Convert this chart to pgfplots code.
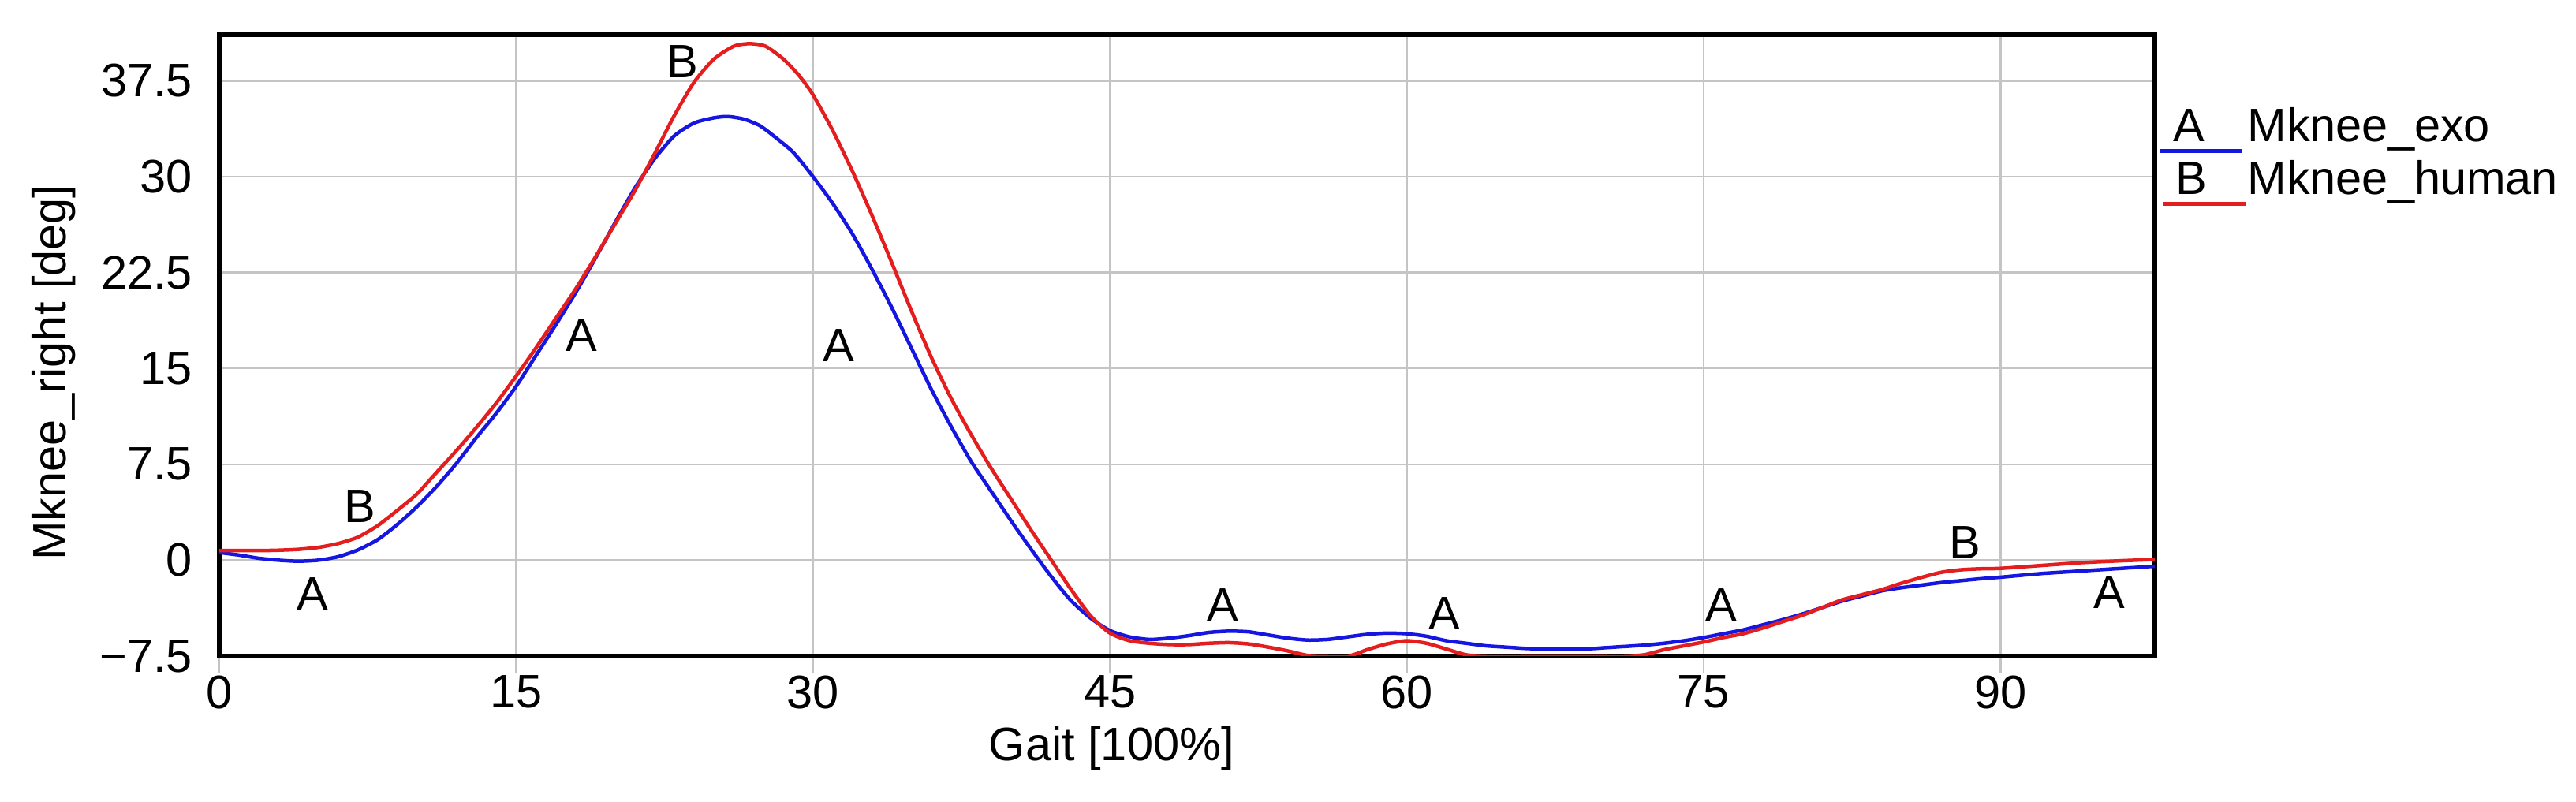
\documentclass[border=0pt]{standalone}
\usepackage{fontspec}
\setmainfont{Liberation Sans}
\usepackage{pgfplots}
\usepackage{pgfplotstable}
\pgfplotsset{compat=1.18}

\definecolor{exoblue}{RGB}{22,22,225}
\definecolor{humred}{RGB}{228,30,30}
\definecolor{gridgray}{RGB}{196,196,196}

% Mknee_exo (curve A)
\pgfplotstableread{
x y
0 0.6
1 0.4
2 0.15
3 0.0
4 -0.08
5 0.0
6 0.27
7 0.8
8 1.6
9 2.8
10 4.2
11 5.8
12 7.6
13 9.6
14 11.5
15 13.6
16 16.0
17 18.4
18 20.9
19 23.6
20 26.4
21 29.1
22 31.4
23 33.2
24 34.2
25 34.6
25.7 34.7
26.5 34.5
27.3 34.0
28 33.2
29 31.9
30 30.0
31 27.9
32 25.5
33 22.7
34 19.7
35 16.5
36 13.3
37 10.4
38 7.7
39 5.4
40 3.1
41 0.9
42 -1.2
43 -3.1
44 -4.5
45 -5.5
46 -6.0
47 -6.2
48 -6.1
49 -5.9
50 -5.65
51 -5.55
52 -5.6
53 -5.85
54 -6.1
55 -6.25
56 -6.2
57 -6.0
58 -5.8
59 -5.7
60 -5.75
61 -5.95
62 -6.3
63 -6.5
64 -6.7
65 -6.8
66 -6.9
67 -6.95
68 -6.97
69 -6.95
70 -6.85
71 -6.75
72 -6.65
73 -6.5
74 -6.3
75 -6.05
76 -5.75
77 -5.45
78 -5.05
79 -4.65
80 -4.2
81 -3.7
82 -3.2
83 -2.8
84 -2.4
85 -2.15
86 -1.95
87 -1.75
88 -1.6
89 -1.45
90 -1.33
92 -1.05
94 -0.85
96 -0.65
97.8 -0.47
}\exo

% Mknee_human (curve B)
\pgfplotstableread{
x y
0 0.75
1 0.75
2 0.75
3 0.78
4 0.85
5 1.0
6 1.3
7 1.8
8 2.7
9 3.9
10 5.2
11 6.9
12 8.6
13 10.4
14 12.3
15 14.4
16 16.6
17 18.9
18 21.2
19 23.7
20 26.3
21 28.9
22 31.8
23 34.8
24 37.4
25 39.2
26 40.2
26.8 40.4
27.6 40.2
28.5 39.2
29.3 37.9
30 36.4
31 33.6
32 30.4
33 26.9
34 23.2
35 19.4
36 15.8
37 12.6
38 9.8
39 7.2
40 4.8
41 2.4
42 0.1
43 -2.2
44 -4.3
45 -5.7
46 -6.3
47 -6.5
48 -6.6
49 -6.6
50 -6.5
51 -6.45
52 -6.55
53 -6.8
54 -7.1
55 -7.45
56 -7.5
57 -7.5
57.5 -7.3
58 -7.0
59 -6.55
60 -6.3
61 -6.5
62 -6.95
63 -7.4
64 -7.5
66 -7.5
68 -7.5
70 -7.5
71 -7.5
72 -7.4
73 -7.0
74 -6.7
75 -6.4
76 -6.05
77 -5.75
78 -5.3
79 -4.8
80 -4.3
81 -3.7
82 -3.1
83 -2.7
84 -2.3
85 -1.8
86 -1.35
87 -0.95
88 -0.75
89 -0.67
90 -0.64
92 -0.42
94 -0.2
96 -0.05
97.8 0.06
}\human

\begin{document}
\begin{tikzpicture}[font=\fontsize{11.9}{14.3}\selectfont]
\begin{axis}[
    scale only axis,
    width=490.8pt, height=157.6pt,
    xmin=0, xmax=97.8,
    ymin=-7.5, ymax=41.1,
    xtick={0,15,30,45,60,75,90},
    xticklabels={0,15,30,45,60,75,90},
    ytick={-7.5,0,7.5,15,22.5,30,37.5},
    yticklabels={\raisebox{-2.4pt}{−7.5},0,7.5,15,22.5,30,37.5},
    xtick pos=lower, ytick pos=left,
    grid=major,
    major grid style={gridgray, line width=0.5pt},
    axis line style={black, line width=1.3pt},
    tick align=outside,
    major tick length=4.3pt,
    xtick style={gridgray, line width=0.5pt},
    ytick style={draw=none},
    xticklabel style={inner sep=0pt, anchor=north, yshift=-0.5pt},
    yticklabel style={inner sep=0pt, anchor=east, xshift=-2.3pt},
    xlabel={Gait [100\%]},
    ylabel={Mknee\_right [deg]},
    xlabel style={at={([yshift=-23.4pt]axis description cs:0.461,0)}, anchor=center},
    ylabel style={at={([xshift=-42pt]axis description cs:0,0.456)}, anchor=center},
    legend style={at={(axis description cs:1,1)}, anchor=north west,
        xshift=0.6pt, yshift=-18.3pt, draw=none, fill=none,
        inner sep=0pt, row sep=2.0pt, column sep=0pt,
        nodes={inner sep=0pt}},
    legend cell align=left,
]
\addplot[exoblue, line width=0.9pt, smooth, tension=0.4,
    legend image code/.code={
        \path[draw=none] (0pt,0pt) -- (22.2pt,0pt);
        \draw[exoblue, line width=0.9pt] (0pt,-5.9pt) -- (21pt,-5.9pt);
        \node[anchor=base, inner sep=0pt, text=black] at (7.4pt,-3.6pt) {A};
    }] table {\exo};
\addlegendentry{Mknee\_exo}
\addplot[humred, line width=0.9pt, smooth, tension=0.4,
    legend image code/.code={
        \path[draw=none] (0pt,0pt) -- (22.2pt,0pt);
        \draw[humred, line width=0.9pt] (0.8pt,-5.9pt) -- (21.8pt,-5.9pt);
        \node[anchor=base, inner sep=0pt, text=black] at (8pt,-3.6pt) {B};
    }] table {\human};
\addlegendentry{Mknee\_human}

% curve letters placed along the lines
\node at (axis cs:23.4,39.0) {B};
\node at (axis cs:18.3,17.6) {A};
\node at (axis cs:31.3,16.8) {A};
\node at (axis cs:7.1,4.2) {B};
\node at (axis cs:4.7,-2.6) {A};
\node at (axis cs:50.7,-3.5) {A};
\node at (axis cs:61.9,-4.2) {A};
\node at (axis cs:75.9,-3.5) {A};
\node at (axis cs:88.2,1.4) {B};
\node at (axis cs:95.5,-2.5) {A};
\end{axis}
\pgfresetboundingbox
\path[use as bounding box] (current axis.south west) ++(-55.6pt,-37pt)
    rectangle ([xshift=106.8pt, yshift=8.8pt]current axis.north east);
\end{tikzpicture}
\end{document}
